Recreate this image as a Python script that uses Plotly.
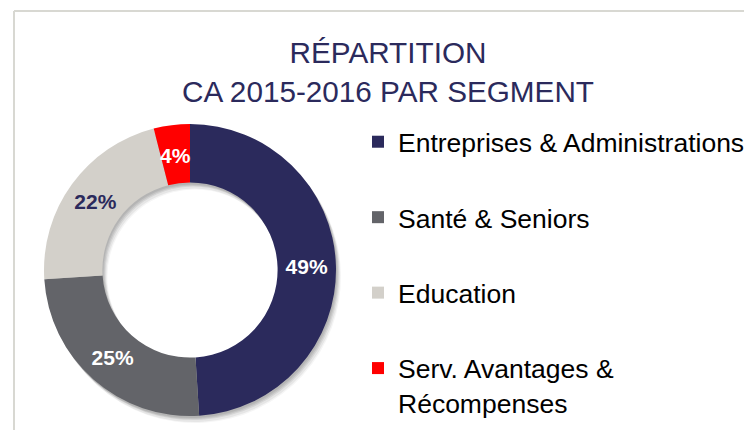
import math
import plotly.graph_objects as go

# Revenue split by segment, fiscal year 2015-2016 (in %)
segments = [
    "Entreprises & Administrations",
    "Santé & Seniors",
    "Education",
    "Serv. Avantages &<br>Récompenses",
]
shares = [49, 25, 22, 4]
colors = ["#2b2a5c", "#636469", "#d3d0ca", "#ff0000"]
label_colors = ["#ffffff", "#ffffff", "#2b2a5c", "#ffffff"]

W, H = 744, 430
FONT = "Liberation Sans, Arial, Helvetica, sans-serif"

# donut geometry in pixels
cx, cy, R, HOLE = 190, 270, 146, 0.6


def domain(dx=0, dy=0):
    return dict(
        x=[(cx - R + dx) / W, (cx + R + dx) / W],
        y=[(H - cy - R - dy) / H, (H - cy + R - dy) / H],
    )


fig = go.Figure()

# soft drop shadow: a few faint copies of the ring, offset down-right
for dx, dy, a in [(1, 2, 0.07), (2, 3, 0.08), (3, 4, 0.08), (4, 6, 0.06), (5, 7, 0.04)]:
    fig.add_trace(go.Pie(
        values=shares, labels=segments, hole=HOLE, sort=False,
        direction="clockwise", rotation=0, domain=domain(dx, dy),
        marker=dict(colors=[f"rgba(0,0,0,{a})"] * len(shares), line=dict(width=0)),
        textinfo="none", hoverinfo="skip", showlegend=False,
    ))

# the thin last slice gets its label placed at the slice's mid-radius below,
# since the automatic inside placement pushes it to the outer rim
positions = ["inside"] * (len(shares) - 1) + ["none"]

fig.add_trace(go.Pie(
    values=shares, labels=segments, hole=HOLE, sort=False,
    direction="clockwise", rotation=0, domain=domain(),
    marker=dict(colors=colors, line=dict(width=0)),
    texttemplate="%{value}%", textposition=positions,
    insidetextorientation="horizontal",
    textfont=dict(family=FONT, size=21, color=label_colors, weight="bold"),
    showlegend=False,
))

# label of the last slice, at the middle of its arc
total = sum(shares)
mid = (sum(shares[:-1]) + shares[-1] / 2) / total * 2 * math.pi
r_mid = R * (1 + HOLE) / 2
lx = cx + r_mid * math.sin(mid)
ly = cy - r_mid * math.cos(mid)
annotations = [dict(
    text=f"{shares[-1]}%", x=lx / W, y=1 - (ly + 1) / H,
    xref="paper", yref="paper", showarrow=False,
    xanchor="center", yanchor="middle",
    font=dict(family=FONT, size=21, color=label_colors[-1], weight="bold"),
)]

# legend entries, one group per segment so the spacing can be set
for name, col in zip(segments, colors):
    fig.add_trace(go.Scatter(
        x=[None], y=[None], mode="markers", name=name,
        legendgroup=name,
        marker=dict(symbol="square", size=14, color=col, line=dict(width=0)),
    ))

fig.update_layout(
    width=W, height=H,
    margin=dict(l=0, r=0, t=0, b=0, autoexpand=False),
    paper_bgcolor="white", plot_bgcolor="white",
    title=dict(
        text="RÉPARTITION<br>CA 2015-2016 PAR SEGMENT",
        x=388 / W, xanchor="center", xref="container",
        y=1 - 63 / H, yanchor="top", yref="container",
        font=dict(family=FONT, size=29.7, color="#2b2a5c"),
    ),
    annotations=annotations,
    uniformtext=dict(minsize=21, mode="show"),
    legend=dict(
        x=358 / W, xanchor="left", y=1 - 118 / H, yanchor="top",
        traceorder="grouped", tracegroupgap=38, valign="top",
        font=dict(family=FONT, size=26.5, color="#000000"),
        bgcolor="rgba(0,0,0,0)", borderwidth=0, itemsizing="constant",
    ),
    xaxis=dict(visible=False), yaxis=dict(visible=False),
    shapes=[
        dict(type="line", xref="paper", yref="paper",
             x0=14 / W, x1=1, y0=1 - 11 / H, y1=1 - 11 / H,
             line=dict(color="#d8d8d2", width=2)),
        dict(type="line", xref="paper", yref="paper",
             x0=14 / W, x1=14 / W, y0=0, y1=1 - 11 / H,
             line=dict(color="#d8d8d2", width=2)),
    ],
)

fig.write_html("out.html")
